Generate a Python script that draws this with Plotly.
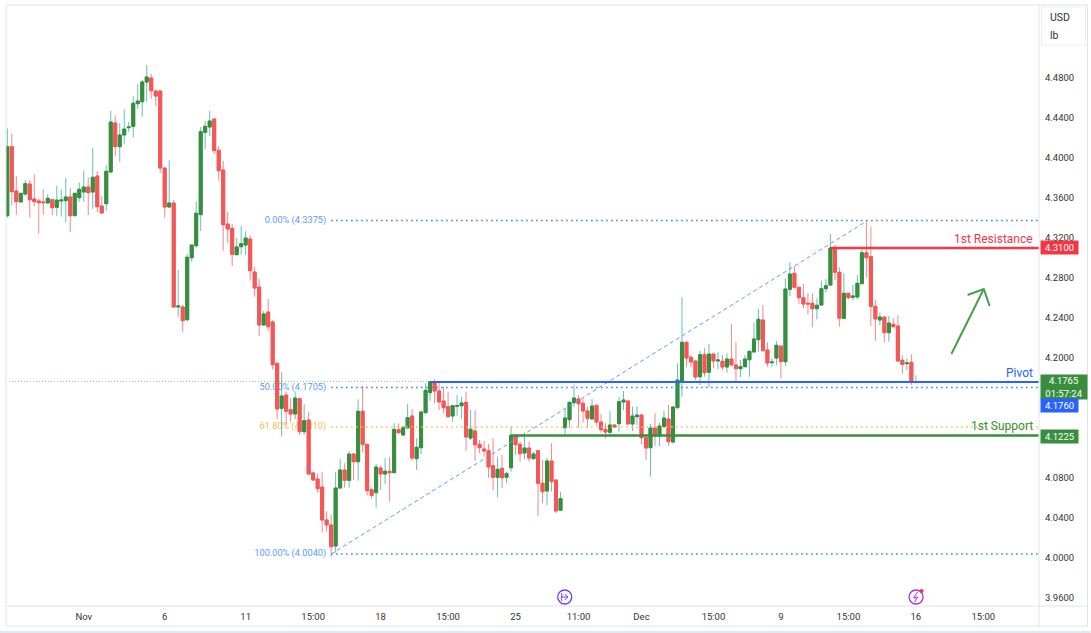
import plotly.graph_objects as go

# prices, one candle per 4h bar
opens = [
    4.3423, 4.4113, 4.3670, 4.3560, 4.3640, 4.3740, 4.3590, 4.3570, 4.3560, 4.3550,
    4.3583, 4.3507, 4.3570, 4.3573, 4.3610, 4.3423, 4.3603, 4.3660, 4.3710, 4.3660,
    4.3820, 4.3520, 4.3543, 4.3860, 4.4350, 4.4113, 4.4230, 4.4303, 4.4317, 4.4543,
    4.4563, 4.4760, 4.4800, 4.4670, 4.4670, 4.3900, 4.3510, 4.3550, 4.2510, 4.2510,
    4.2383, 4.3003, 4.3123, 4.3433, 4.4257, 4.4310, 4.4390, 4.4077, 4.3880, 4.3340,
    4.3297, 4.3033, 4.3113, 4.3130, 4.3190, 4.2860, 4.2710, 4.2330, 4.2460, 4.2360,
    4.1947, 4.1497, 4.1630, 4.1483, 4.1440, 4.1593, 4.1263, 4.1380, 4.0850, 4.0790,
    4.0710, 4.0380, 4.0330, 4.0120, 4.0700, 4.0880, 4.0777, 4.1040, 4.0963, 4.1467,
    4.1137, 4.0683, 4.0653, 4.0900, 4.0840, 4.0867, 4.0853, 4.1283, 4.1230, 4.1300,
    4.1420, 4.0993, 4.1103, 4.1453, 4.1653, 4.1763, 4.1670, 4.1570, 4.1513, 4.1420,
    4.1517, 4.1523, 4.1557, 4.1200, 4.1270, 4.1137, 4.1090, 4.1073, 4.0923, 4.0807,
    4.0897, 4.0807, 4.0903, 4.1227, 4.1137, 4.1050, 4.1100, 4.0993, 4.1073, 4.0747,
    4.0670, 4.0970, 4.0780, 4.0477, 4.1303, 4.1383, 4.1553, 4.1590, 4.1547, 4.1470,
    4.1390, 4.1527, 4.1360, 4.1287, 4.1257, 4.1330, 4.1343, 4.1560, 4.1570, 4.1340,
    4.1413, 4.1430, 4.1203, 4.1103, 4.1300, 4.1223, 4.1313, 4.1390, 4.1160, 4.1503,
    4.1770, 4.2157, 4.2007, 4.1970, 4.1813, 4.2033, 4.1857, 4.2040, 4.1970, 4.1967,
    4.1910, 4.1990, 4.1930, 4.1893, 4.1913, 4.1983, 4.2060, 4.2183, 4.2380, 4.2080,
    4.1953, 4.2000, 4.2120, 4.1963, 4.2687, 4.2847, 4.2707, 4.2603, 4.2547, 4.2547,
    4.2493, 4.2530, 4.2693, 4.2730, 4.3100, 4.2857, 4.2397, 4.2647, 4.2607, 4.2610,
    4.2743, 4.3053, 4.3013, 4.2517, 4.2380, 4.2410, 4.2253, 4.2337, 4.2320, 4.1977,
    4.1943, 4.1957, 4.1760,
]
highs = [
    4.4297, 4.4240, 4.3820, 4.3647, 4.3780, 4.3780, 4.3837, 4.3597, 4.3687, 4.3640,
    4.3583, 4.3720, 4.3687, 4.3800, 4.3700, 4.3647, 4.3753, 4.3873, 4.3807, 4.4100,
    4.3867, 4.3620, 4.3930, 4.4473, 4.4427, 4.4350, 4.4487, 4.4360, 4.4617, 4.4737,
    4.4780, 4.4930, 4.4840, 4.4670, 4.4670, 4.3900, 4.3977, 4.3580, 4.2880, 4.2530,
    4.3040, 4.3130, 4.3563, 4.4310, 4.4370, 4.4470, 4.4390, 4.4120, 4.3970, 4.3460,
    4.3340, 4.3200, 4.3320, 4.3267, 4.3227, 4.2910, 4.2793, 4.2470, 4.2590, 4.2380,
    4.1947, 4.1857, 4.1663, 4.1597, 4.1663, 4.1593, 4.1540, 4.1463, 4.0863, 4.0847,
    4.0860, 4.0467, 4.0430, 4.0863, 4.0990, 4.0947, 4.1067, 4.1040, 4.1587, 4.1720,
    4.1137, 4.0697, 4.0940, 4.0920, 4.0997, 4.1007, 4.1347, 4.1347, 4.1320, 4.1540,
    4.1490, 4.1197, 4.1473, 4.1747, 4.1763, 4.1787, 4.1763, 4.1713, 4.1663, 4.1523,
    4.1630, 4.1613, 4.1663, 4.1480, 4.1480, 4.1180, 4.1170, 4.1140, 4.1197, 4.1013,
    4.1030, 4.0863, 4.1320, 4.1227, 4.1163, 4.1253, 4.1163, 4.1063, 4.1080, 4.0980,
    4.1003, 4.1147, 4.0780, 4.0660, 4.1487, 4.1563, 4.1733, 4.1630, 4.1597, 4.1513,
    4.1590, 4.1527, 4.1437, 4.1347, 4.1470, 4.1330, 4.1613, 4.1670, 4.1573, 4.1513,
    4.1520, 4.1430, 4.1203, 4.1340, 4.1447, 4.1353, 4.1473, 4.1530, 4.1520, 4.1947,
    4.2607, 4.2157, 4.2030, 4.1970, 4.2073, 4.2097, 4.2140, 4.2040, 4.2057, 4.2030,
    4.2047, 4.2337, 4.2157, 4.1980, 4.2030, 4.2070, 4.2353, 4.2490, 4.2530, 4.2157,
    4.1997, 4.2170, 4.2120, 4.2797, 4.2957, 4.2920, 4.2707, 4.2740, 4.2647, 4.2647,
    4.2597, 4.2773, 4.2790, 4.3240, 4.3130, 4.2907, 4.2847, 4.2647, 4.2730, 4.2830,
    4.3087, 4.3363, 4.3313, 4.2580, 4.2453, 4.2410, 4.2420, 4.2397, 4.2430, 4.2027,
    4.1997, 4.2037, 4.1827,
]
lows = [
    4.3403, 4.3530, 4.3430, 4.3560, 4.3623, 4.3403, 4.3520, 4.3243, 4.3430, 4.3550,
    4.3430, 4.3423, 4.3413, 4.3357, 4.3260, 4.3423, 4.3563, 4.3563, 4.3430, 4.3493,
    4.3460, 4.3443, 4.3473, 4.3853, 4.4017, 4.3963, 4.4143, 4.4260, 4.4203, 4.4490,
    4.4413, 4.4563, 4.4593, 4.4520, 4.3853, 4.3403, 4.3510, 4.2510, 4.2413, 4.2263,
    4.2363, 4.2963, 4.3103, 4.3270, 4.4090, 4.4220, 4.4040, 4.3773, 4.3073, 4.3147,
    4.2920, 4.3027, 4.3033, 4.3027, 4.2773, 4.2613, 4.2223, 4.2320, 4.2270, 4.1887,
    4.1390, 4.1213, 4.1330, 4.1363, 4.1390, 4.1230, 4.1230, 4.0833, 4.0773, 4.0653,
    4.0253, 4.0263, 4.0013, 4.0053, 4.0697, 4.0703, 4.0703, 4.0780, 4.0773, 4.1053,
    4.0623, 4.0593, 4.0503, 4.0680, 4.0740, 4.0563, 4.0853, 4.1240, 4.1220, 4.1300,
    4.0973, 4.0880, 4.1040, 4.1447, 4.1570, 4.1547, 4.1480, 4.1447, 4.1407, 4.1363,
    4.1423, 4.1390, 4.1070, 4.1180, 4.0973, 4.1047, 4.1013, 4.0803, 4.0680, 4.0607,
    4.0703, 4.0747, 4.0863, 4.1030, 4.0963, 4.0987, 4.0963, 4.0987, 4.0423, 4.0547,
    4.0530, 4.0663, 4.0447, 4.0473, 4.1207, 4.1303, 4.1513, 4.1303, 4.1353, 4.1313,
    4.1390, 4.1330, 4.1253, 4.1197, 4.1230, 4.1303, 4.1263, 4.1480, 4.1340, 4.1270,
    4.1330, 4.1137, 4.0980, 4.0813, 4.1120, 4.1120, 4.1307, 4.1123, 4.1147, 4.1497,
    4.1613, 4.1907, 4.1907, 4.1780, 4.1730, 4.1813, 4.1707, 4.1897, 4.1887, 4.1880,
    4.1853, 4.1930, 4.1753, 4.1810, 4.1907, 4.1813, 4.2060, 4.2063, 4.2073, 4.1913,
    4.1913, 4.1927, 4.1793, 4.1920, 4.2620, 4.2690, 4.2537, 4.2497, 4.2440, 4.2307,
    4.2387, 4.2527, 4.2653, 4.2720, 4.2780, 4.2313, 4.2387, 4.2587, 4.2580, 4.2587,
    4.2740, 4.2803, 4.2320, 4.2173, 4.2330, 4.2157, 4.2163, 4.2307, 4.1970, 4.1843,
    4.1880, 4.1730, 4.1747,
]
closes = [
    4.4113, 4.3663, 4.3563, 4.3647, 4.3743, 4.3583, 4.3563, 4.3553, 4.3553, 4.3597,
    4.3503, 4.3580, 4.3580, 4.3610, 4.3423, 4.3647, 4.3687, 4.3710, 4.3653, 4.3807,
    4.3513, 4.3450, 4.3867, 4.4360, 4.4113, 4.4230, 4.4290, 4.4310, 4.4547, 4.4570,
    4.4760, 4.4810, 4.4673, 4.4620, 4.3900, 4.3510, 4.3550, 4.2510, 4.2520, 4.2373,
    4.3007, 4.3130, 4.3447, 4.4263, 4.4317, 4.4370, 4.4073, 4.3873, 4.3333, 4.3290,
    4.3037, 4.3110, 4.3143, 4.3200, 4.2873, 4.2700, 4.2330, 4.2440, 4.2313, 4.1933,
    4.1490, 4.1620, 4.1467, 4.1440, 4.1600, 4.1263, 4.1373, 4.0840, 4.0780, 4.0693,
    4.0380, 4.0330, 4.0113, 4.0700, 4.0880, 4.0777, 4.1040, 4.0963, 4.1467, 4.1137,
    4.0673, 4.0627, 4.0910, 4.0840, 4.0867, 4.0853, 4.1287, 4.1253, 4.1307, 4.1403,
    4.1000, 4.1107, 4.1460, 4.1677, 4.1763, 4.1670, 4.1560, 4.1503, 4.1413, 4.1523,
    4.1523, 4.1550, 4.1210, 4.1287, 4.1133, 4.1103, 4.1070, 4.0910, 4.0807, 4.0887,
    4.0803, 4.0843, 4.1227, 4.1133, 4.1043, 4.1100, 4.1000, 4.1040, 4.0747, 4.0663,
    4.0970, 4.0763, 4.0470, 4.0593, 4.1400, 4.1557, 4.1600, 4.1543, 4.1470, 4.1397,
    4.1520, 4.1360, 4.1283, 4.1260, 4.1330, 4.1310, 4.1563, 4.1580, 4.1340, 4.1420,
    4.1430, 4.1203, 4.1100, 4.1300, 4.1220, 4.1320, 4.1400, 4.1163, 4.1510, 4.1780,
    4.2157, 4.2000, 4.1960, 4.1810, 4.2033, 4.1853, 4.2040, 4.1970, 4.1980, 4.1910,
    4.1990, 4.1930, 4.1893, 4.1913, 4.1990, 4.2067, 4.2190, 4.2387, 4.2073, 4.1950,
    4.1960, 4.2127, 4.1963, 4.2690, 4.2840, 4.2707, 4.2603, 4.2540, 4.2540, 4.2493,
    4.2527, 4.2693, 4.2723, 4.3100, 4.2857, 4.2397, 4.2647, 4.2603, 4.2620, 4.2747,
    4.3053, 4.3003, 4.2517, 4.2390, 4.2410, 4.2253, 4.2350, 4.2313, 4.1970, 4.1937,
    4.1950, 4.1760, 4.1765,
]
bars = list(range(len(opens)))

x_ticks = [17, 35, 53, 68, 83, 98, 113, 127, 141, 157, 172, 187, 202, 217]
x_labels = ["Nov", "6", "11", "15:00", "18", "15:00", "25", "11:00", "Dec", "15:00", "9", "15:00", "16", "15:00"]
y_ticks = [3.96, 4.00, 4.04, 4.08, 4.20, 4.24, 4.28, 4.32, 4.36, 4.40, 4.44, 4.48]

last_price = 4.1765
pivot = 4.1760
resistance = 4.3100
support = 4.1225
fib_levels = [4.3375, 4.1705, 4.1310, 4.0040]
fib_names = ["0.00% (4.3375)", "50.00% (4.1705)", "61.80% (4.1310)", "100.00% (4.0040)"]
fib_colors = ["#2f7ee6", "#2f7ee6", "#f5c242", "#2f7ee6"]
fib_text_colors = ["#5b9cf6", "#5b9cf6", "#f7bd4a", "#5b9cf6"]
trend_x = [72, 191.3]
trend_y = [4.0040, 4.3375]
arrow_x = [209.9, 217.1, None, 213.5, 217.1, 218.4]
arrow_y = [4.204, 4.269, None, 4.263, 4.269, 4.252]

GREEN = "#388e3c"
RED = "#f55656"
BLUE = "#2962ff"
TEAL = "#26a69a"
FONT = "Roboto"
DOTS = "1.5px,3.5px"
W, H = 1091, 633
L, R, T, B = 6, 1039.5, 5, 606
X_RANGE = [(L - 7.3) / 4.5, (R - 7.3) / 4.5]
Y_RANGE = [3.952, 4.553]
X_END = X_RANGE[1]


# screen pixel to paper coordinates, for the frame and the icons
def px(x):
    return (x - L) / (R - L)


def py(y):
    return (B - y) / (B - T)


fig = go.Figure()

# fib labels sit under the candles, so they go on the primary axes
for level, name, col in zip(fib_levels, fib_names, fib_text_colors):
    fig.add_trace(go.Scatter(x=[70.9], y=[level], mode="text", text=[name], textposition="middle left",
                             textfont=dict(family=FONT, size=9.2, color=col)))

# wicks first, bodies on top of them in a stronger colour
fig.add_trace(go.Candlestick(x=bars, open=opens, high=highs, low=lows, close=closes, whiskerwidth=0,
                             increasing=dict(line=dict(color=TEAL, width=1), fillcolor=TEAL),
                             decreasing=dict(line=dict(color=RED, width=1), fillcolor=RED),
                             opacity=0.7, xaxis="x2", yaxis="y2"))
fig.add_trace(go.Candlestick(x=bars, open=opens, close=closes,
                             high=[max(o, c) for o, c in zip(opens, closes)],
                             low=[min(o, c) for o, c in zip(opens, closes)], whiskerwidth=0,
                             increasing=dict(line=dict(color=GREEN, width=1), fillcolor=GREEN),
                             decreasing=dict(line=dict(color=RED, width=1), fillcolor=RED),
                             xaxis="x2", yaxis="y2"))


def add_line(xs, ys, color, width=2, dash="solid"):
    fig.add_trace(go.Scatter(x=xs, y=ys, mode="lines", line=dict(color=color, width=width, dash=dash),
                             xaxis="x2", yaxis="y2"))


add_line(X_RANGE, [last_price, last_price], "rgba(56,142,60,0.5)", 1, "1px,2px")
for level, col in zip(fib_levels, fib_colors):
    add_line([72, X_END], [level, level], col, 1.5, DOTS)
add_line(trend_x, trend_y, "#5b9cf6", 1, "4px,3px")
add_line([94, X_END], [pivot, pivot], BLUE, 2)
add_line([112, X_END], [support, support], GREEN, 2.4)
add_line([183, X_END], [resistance, resistance], "#f23645", 2.4)
add_line(arrow_x, arrow_y, "#43a047", 2)

annotations = [
    dict(x=X_END - 0.9, y=4.3195, text="1st Resistance", xanchor="right", font=dict(color="#f23645", size=12)),
    dict(x=X_END - 0.9, y=4.1848, text="Pivot", xanchor="right", font=dict(color=BLUE, size=12)),
    dict(x=X_END - 0.9, y=4.1320, text="1st Support", xanchor="right", font=dict(color=GREEN, size=12)),
]
for a in annotations:
    a.update(xref="x2", yref="y2", showarrow=False)
    a["font"]["family"] = FONT

# price tags on the scale
tags = [
    (248, "4.3100", "#f23645", 37, 13),
    (387, "4.1765<br>01:57:24", GREEN, 46, 24),
    (405, "4.1760", BLUE, 37, 13),
    (436, "4.1225", GREEN, 37, 13),
]
for ypos, label, col, w, h in tags:
    annotations.append(dict(xref="paper", yref="paper", x=1.0005, y=py(ypos), text=label, showarrow=False,
                            xanchor="left", yanchor="middle", bgcolor=col, width=w, height=h, align="center",
                            borderpad=0, font=dict(family=FONT, size=9.5, color="white")))
annotations.append(dict(xref="paper", yref="paper", x=px(1049), y=py(18), text="USD", showarrow=False,
                        xanchor="left", yanchor="middle", font=dict(family=FONT, size=10.5, color="#333333")))
annotations.append(dict(xref="paper", yref="paper", x=px(1049), y=py(36), text="lb", showarrow=False,
                        xanchor="left", yanchor="middle", font=dict(family=FONT, size=10.5, color="#333333")))

FRAME = "#e0e3eb"
shapes = [
    dict(type="rect", xref="paper", yref="paper", x0=px(6), x1=px(1088), y0=py(626), y1=py(5),
         line=dict(color=FRAME, width=1)),
    dict(type="line", xref="paper", yref="paper", x0=px(6), x1=px(1088), y0=py(606), y1=py(606),
         line=dict(color=FRAME, width=1)),
    dict(type="line", xref="paper", yref="paper", x0=px(R), x1=px(R), y0=py(626), y1=py(5),
         line=dict(color=FRAME, width=1)),
    dict(type="rect", xref="paper", yref="paper", x0=px(0), x1=px(1091), y0=py(633), y1=py(631),
         line=dict(width=0), fillcolor="#dfe9f5"),
    dict(type="rect", xref="paper", yref="paper", x0=px(1042), x1=px(1086), y0=py(45), y1=py(7),
         line=dict(color="#eceef3", width=1)),
    # the two event icons under the candles
    dict(type="circle", xref="paper", yref="paper", x0=px(558), x1=px(572), y0=py(604), y1=py(590),
         line=dict(color="#6f3ff5", width=1.3)),
    dict(type="path", xref="paper", yref="paper",
         path=f"M {px(561)} {py(597)} L {px(568)} {py(597)} M {px(565)} {py(594)} L {px(568)} {py(597)} "
              f"L {px(565)} {py(600)} M {px(562)} {py(593)} L {px(562)} {py(601)}",
         line=dict(color="#6f3ff5", width=1)),
    dict(type="circle", xref="paper", yref="paper", x0=px(909.5), x1=px(923.5), y0=py(604), y1=py(590),
         line=dict(color="#b02fd0", width=1.3)),
    dict(type="path", xref="paper", yref="paper",
         path=f"M {px(918)} {py(592)} L {px(914)} {py(598)} L {px(918)} {py(597)} L {px(915)} {py(602)}",
         line=dict(color="#b02fd0", width=1)),
    dict(type="circle", xref="paper", yref="paper", x0=px(920), x1=px(924), y0=py(593), y1=py(589),
         line=dict(width=0), fillcolor="#f23645"),
]

tick_font = dict(family=FONT, size=9.5, color="#333333")
fig.update_layout(
    width=W, height=H, showlegend=False,
    margin=dict(l=L, r=W - R, t=T, b=H - B, pad=0),
    paper_bgcolor="white", plot_bgcolor="white",
    boxmode="overlay", boxgap=0.05,
    xaxis=dict(range=X_RANGE, tickmode="array", tickvals=x_ticks, ticktext=x_labels, showgrid=False,
               zeroline=False, showline=False, ticks="", tickfont=tick_font, tickangle=0,
               ticklabelstandoff=3),
    yaxis=dict(range=Y_RANGE, side="right", tickmode="array", tickvals=y_ticks,
               ticktext=[f"{v:.4f}" for v in y_ticks], showgrid=False, zeroline=False, showline=False,
               ticks="", tickfont=tick_font, ticklabelstandoff=5),
    xaxis2=dict(range=X_RANGE, overlaying="x", visible=False, rangeslider=dict(visible=False)),
    yaxis2=dict(range=Y_RANGE, overlaying="y", visible=False),
    annotations=annotations, shapes=shapes,
)
fig.update_xaxes(rangeslider_visible=False)

# the browser's default body margin would push the whole chart 8px off
fig.write_html("out.html", config={"displayModeBar": False}, post_script="document.body.style.margin='0';")
